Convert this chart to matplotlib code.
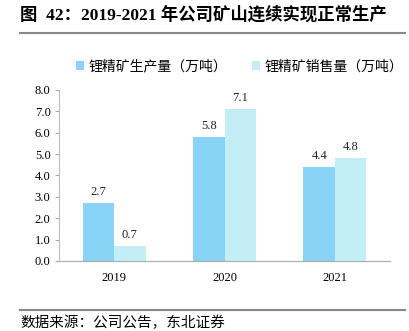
import numpy as np
import matplotlib.pyplot as plt
from matplotlib.lines import Line2D

plt.rcParams['font.family'] = ['Liberation Serif', 'Noto Sans CJK SC', 'DejaVu Sans']

# data
years = ['2019', '2020', '2021']
production = [2.7, 5.8, 4.4]
sales = [0.7, 7.1, 4.8]
yticks = [0, 1, 2, 3, 4, 5, 6, 7, 8]

cjk = ['Noto Sans CJK SC', 'DejaVu Sans']
c_prod = '#88d3f6'
c_sales = '#c3eef6'

fig = plt.figure(figsize=(4.09, 3.31), dpi=100)
ax = fig.add_axes([0.144, 0.2115, 0.81, 0.5166])

x = np.arange(len(years))
w = 0.285
b1 = ax.bar(x - w / 2, production, w, color=c_prod, label='锂精矿生产量（万吨）')
b2 = ax.bar(x + w / 2, sales, w, color=c_sales, label='锂精矿销售量（万吨）')

for bars, vals in [(b1, production), (b2, sales)]:
    for r, v in zip(bars, vals):
        ax.text(r.get_x() + r.get_width() / 2, v + 0.25, '%.1f' % v,
                ha='center', va='bottom', fontsize=9, color='#222222')

ax.set_xlim(-0.5, 2.5)
ax.set_ylim(0, 8)
ax.set_yticks(yticks)
ax.set_yticklabels(['%.1f' % t for t in yticks], fontsize=9)
ax.set_xticks(x)
ax.set_xticklabels(years, fontsize=9)
ax.tick_params(axis='x', length=0, pad=8)
ax.tick_params(axis='y', length=3, color='#aaaaaa', pad=3)
for s in ['top', 'right']:
    ax.spines[s].set_visible(False)
ax.spines['left'].set_color('#bbbbbb')
ax.spines['bottom'].set_color('#aaaaaa')

leg = fig.legend(handles=[b1, b2], loc='center left', bbox_to_anchor=(0.165, 0.8),
                 ncol=2, frameon=False, prop={'family': cjk, 'size': 10},
                 handlelength=0.6, handleheight=0.6, handletextpad=0.3,
                 columnspacing=1.8, borderpad=0.1)

fig.text(0.05, 0.955, '图  42：2019-2021 年公司矿山连续实现正常生产', fontsize=12.5,
         fontweight='bold', va='center', ha='left',
         family=['Liberation Serif', 'Noto Sans CJK SC'])
fig.add_artist(Line2D([0.05, 0.99], [0.9, 0.9], color='#888888', lw=1.5))
fig.add_artist(Line2D([0.05, 0.99], [0.064, 0.064], color='#888888', lw=1.5))
fig.text(0.05, 0.025, '数据来源：公司公告，东北证券', fontsize=10.5, va='center',
         ha='left', family=cjk)

fig.savefig('out.png', dpi=100)
